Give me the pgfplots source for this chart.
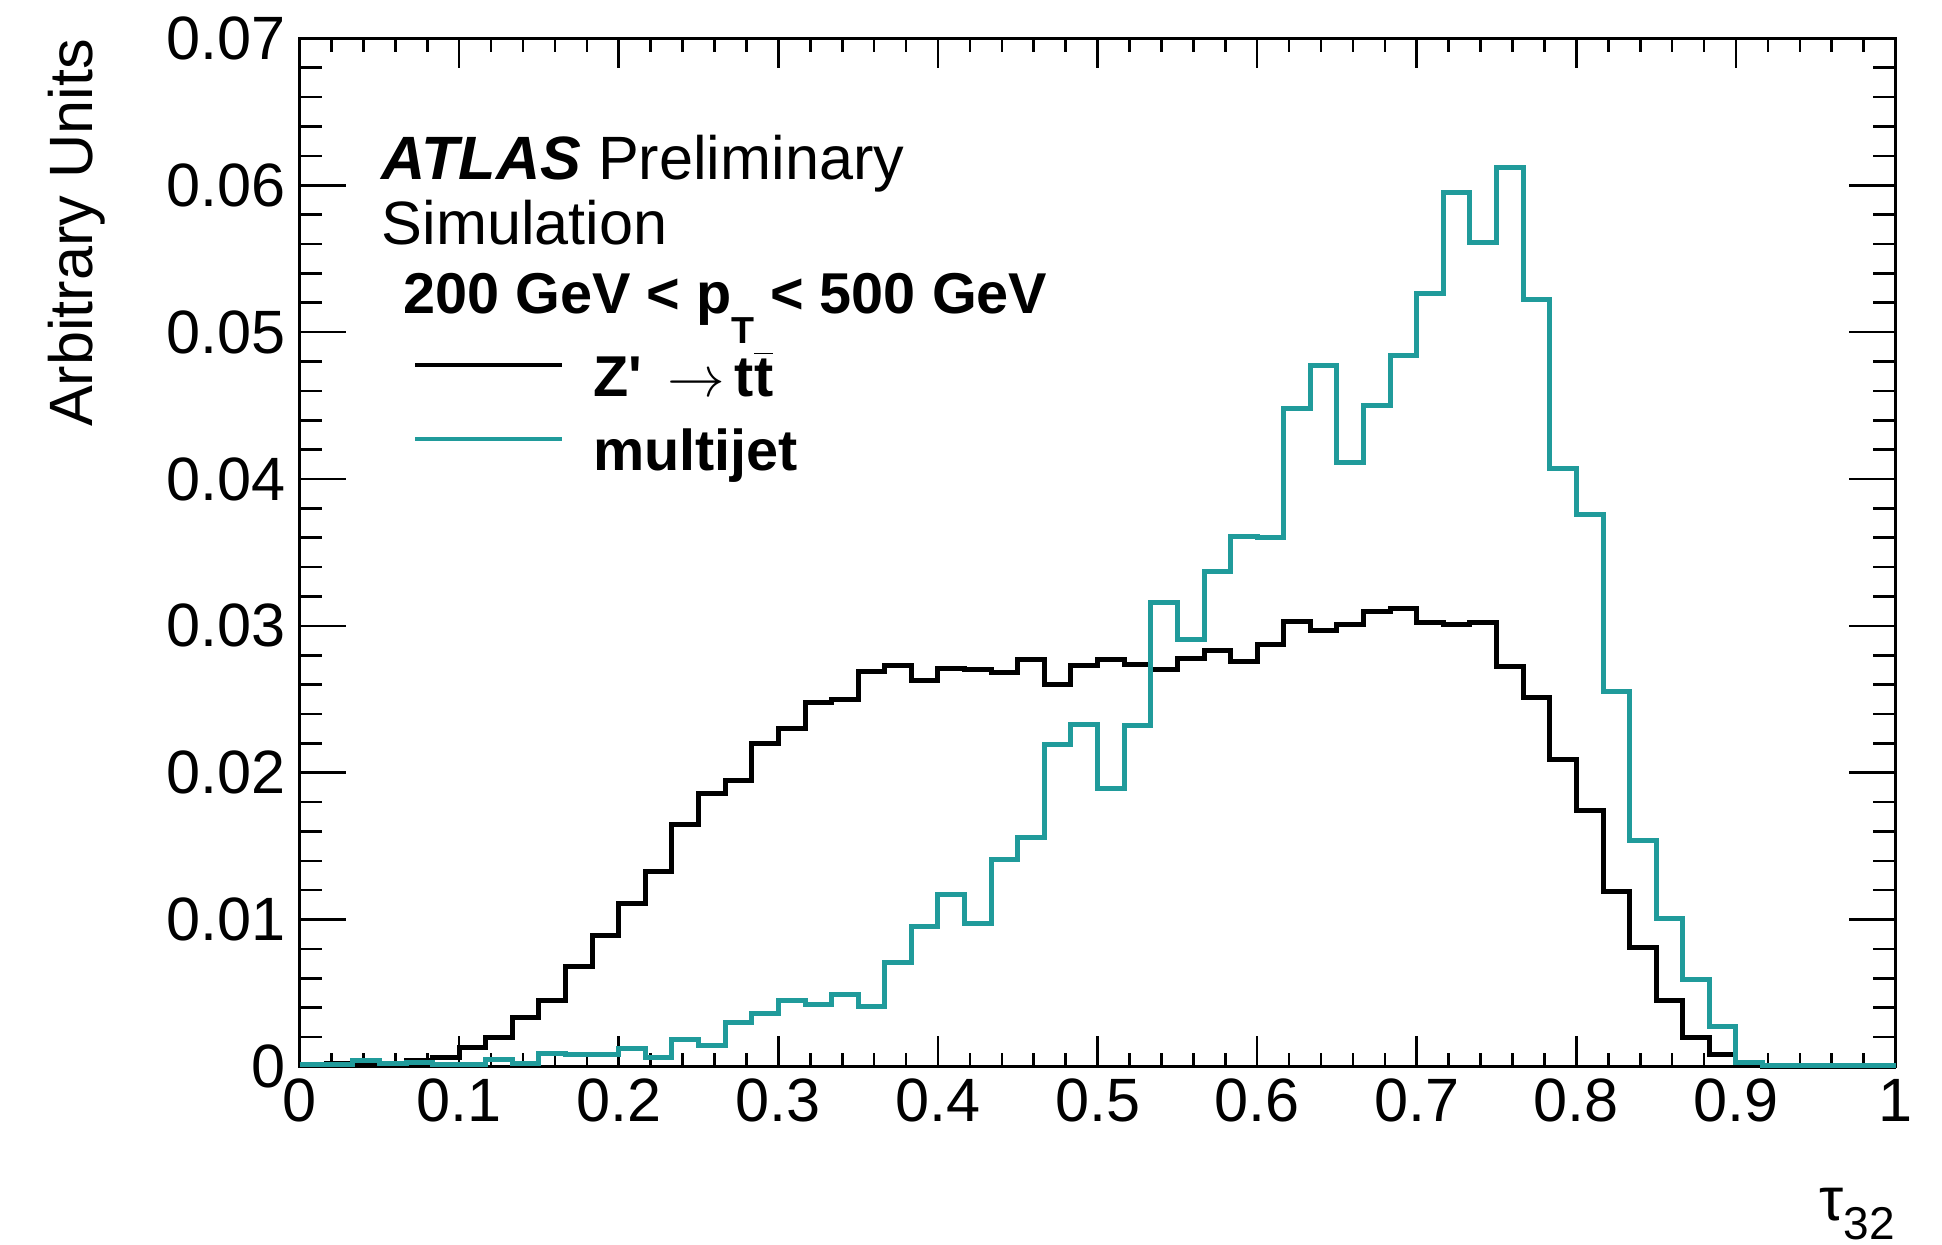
\documentclass[border=0pt]{standalone}
\usepackage{fontspec}
\setmainfont{Liberation Sans}
\usepackage{pgfplots}
\usepackage{pgfplotstable}
\pgfplotsset{compat=1.18}
\usetikzlibrary{calc}
\definecolor{tealh}{RGB}{32,155,155}

\pgfplotstableread{
x y
0 0.0001
0.0167 0.0002
0.0333 0.0002
0.05 0.0002
0.0667 0.0004
0.0833 0.0006
0.1 0.0013
0.1167 0.0020
0.1333 0.0033
0.15 0.0045
0.1667 0.0068
0.1833 0.0089
0.2 0.0111
0.2167 0.0133
0.2333 0.0165
0.25 0.0186
0.2667 0.0195
0.2833 0.0220
0.3 0.0230
0.3167 0.0248
0.3333 0.0250
0.35 0.0269
0.3667 0.0273
0.3833 0.0263
0.4 0.0271
0.4167 0.0270
0.4333 0.0268
0.45 0.0277
0.4667 0.0260
0.4833 0.0273
0.5 0.0277
0.5167 0.0274
0.5333 0.0270
0.55 0.0278
0.5667 0.0283
0.5833 0.0276
0.6 0.0287
0.6167 0.0303
0.6333 0.0297
0.65 0.0301
0.6667 0.0310
0.6833 0.0312
0.7 0.0302
0.7167 0.0301
0.7333 0.0302
0.75 0.0272
0.7667 0.0251
0.7833 0.0209
0.8 0.0174
0.8167 0.0119
0.8333 0.0081
0.85 0.0045
0.8667 0.0020
0.8833 0.0008
0.9 0.0001
0.9167 0
0.9333 0
0.95 0
0.9667 0
0.9833 0
1 0
}\zprime

\pgfplotstableread{
x y
0 0.0001
0.0167 0.0001
0.0333 0.0004
0.05 0.0002
0.0667 0.0003
0.0833 0.0001
0.1 0.0001
0.1167 0.0005
0.1333 0.0002
0.15 0.0009
0.1667 0.0008
0.1833 0.0008
0.2 0.0012
0.2167 0.0006
0.2333 0.0018
0.25 0.0014
0.2667 0.0030
0.2833 0.0036
0.3 0.0045
0.3167 0.0042
0.3333 0.0049
0.35 0.0041
0.3667 0.0071
0.3833 0.0095
0.4 0.0117
0.4167 0.0097
0.4333 0.0141
0.45 0.0156
0.4667 0.0219
0.4833 0.0233
0.5 0.0189
0.5167 0.0232
0.5333 0.0316
0.55 0.0291
0.5667 0.0337
0.5833 0.0361
0.6 0.0360
0.6167 0.0448
0.6333 0.0477
0.65 0.0411
0.6667 0.0450
0.6833 0.0484
0.7 0.0526
0.7167 0.0595
0.7333 0.0561
0.75 0.0612
0.7667 0.0522
0.7833 0.0407
0.8 0.0376
0.8167 0.0255
0.8333 0.0154
0.85 0.0101
0.8667 0.0059
0.8833 0.0027
0.9 0.0003
0.9167 0.00005
0.9333 0.00005
0.95 0.00005
0.9667 0.00005
0.9833 0.00005
1 0.00005
}\multijet

\begin{document}
\begin{tikzpicture}[font=\fontsize{15.3}{18}\selectfont]
\path[use as bounding box] (-74.9pt,-44.6pt) rectangle (410.6pt,266.6pt);
\begin{axis}[
  at={(0,0)}, anchor=south west,
  scale only axis, width=399pt, height=257pt,
  xmin=0, xmax=1, ymin=0, ymax=0.07,
  clip=false,
  scaled x ticks=false, scaled y ticks=false,
  xtick={0,0.1,0.2,0.3,0.4,0.5,0.6,0.7,0.8,0.9,1},
  xticklabels={0,0.1,0.2,0.3,0.4,0.5,0.6,0.7,0.8,0.9,1},
  ytick={0,0.01,0.02,0.03,0.04,0.05,0.06,0.07},
  yticklabels={0,0.01,0.02,0.03,0.04,0.05,0.06,0.07},
  minor x tick num=4, minor y tick num=4,
  tick align=inside, xtick pos=both, ytick pos=both,
  xticklabel pos=lower, yticklabel pos=left,
  axis line style={line width=0.7pt, black},
  tick style={black, line width=0.65pt},
  xtick style={/pgfplots/major tick length=7.5pt, /pgfplots/minor tick length=3.3pt},
  ytick style={/pgfplots/major tick length=11.6pt, /pgfplots/minor tick length=5.6pt},
  xticklabel style={inner sep=0pt, yshift=-3pt, anchor=north},
  yticklabel style={inner sep=0pt, xshift=-3.2pt, anchor=east},
  legend cell align=left,
  legend style={draw=none, fill=none, at={(axis description cs:0.0707,0.695)}, anchor=north west,
    inner sep=0pt, column sep=7.2pt, row sep=4pt,
    nodes={inner sep=0pt, text height=11pt, text depth=3.5pt},
    font=\fontsize{14.4}{17}\selectfont\bfseries},
  legend image code/.code={\draw[#1, line width=1.0pt] (0pt,4.2pt) -- (36.8pt,4.2pt);},
]
\addplot[const plot, black, line width=1.25pt] table {\zprime};
\addlegendentry{Z\textquotesingle\, $\rightarrow$\,t$\overline{\hbox{\bfseries t}}$}
\addplot[const plot, tealh, line width=1.25pt] table {\multijet};
\addlegendentry{multijet}

\node[anchor=base west, inner sep=0pt] at (axis description cs:0.0509,0.8627) {\textbf{\textit{ATLAS}} Preliminary};
\node[anchor=base west, inner sep=0pt] at (axis description cs:0.0509,0.800) {Simulation};
\node[anchor=base west, inner sep=0pt] at (axis description cs:0.0644,0.7327) {\fontsize{14.4}{17}\selectfont\bfseries 200 GeV < p\raisebox{-7.5pt}{\fontsize{9.4}{10}\selectfont T} < 500 GeV};
\node[anchor=base east, inner sep=0pt] at ($(axis description cs:1,0)+(0,-38.6pt)$) {τ\raisebox{-4.7pt}{\fontsize{11.5}{12}\selectfont 32}};
\node[rotate=90, anchor=base east, inner sep=0pt] at ($(axis description cs:0,1)+(-51.7pt,0)$) {Arbitrary Units};
\end{axis}
\end{tikzpicture}
\end{document}
